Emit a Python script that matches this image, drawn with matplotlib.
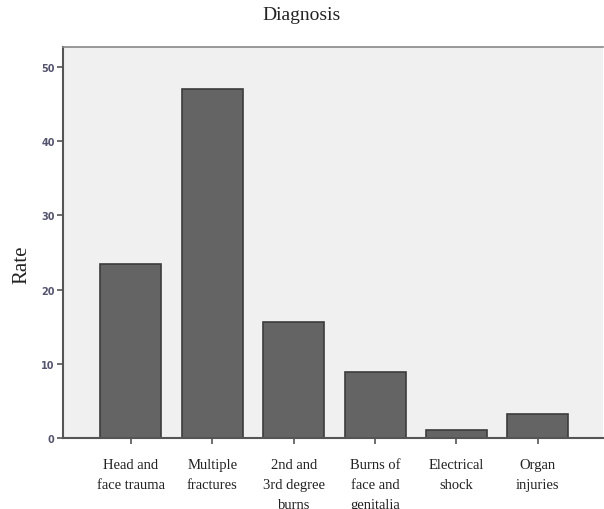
import matplotlib
matplotlib.use("Agg")
import matplotlib.pyplot as plt

categories = ["Head and\nface trauma", "Multiple\nfractures", "2nd and\n3rd degree\nburns",
              "Burns of\nface and\ngenitalia", "Electrical\nshock", "Organ\ninjuries"]
rates = [23.5, 47.1, 15.6, 8.9, 1.1, 3.3]
yticks = [0, 10, 20, 30, 40, 50]

fig = plt.figure(figsize=(6.04, 5.10), dpi=100)
ax = fig.add_axes([0.1043, 0.139, 0.894, 0.767])
ax.set_facecolor("#f0f0f0")

x = range(len(categories))
ax.bar(x, rates, width=0.75, color="#646464", edgecolor="#3c3c3c", linewidth=1.2, zorder=2)

ax.set_xlim(-0.835, 5.8)
ax.set_ylim(0, 52.7)
ax.set_yticks(yticks)
ax.set_xticks(list(x))
ax.set_xticklabels(categories, family="Liberation Serif", fontsize=10.5, color="#222222",
                   va="top", linespacing=1.7)
ax.tick_params(axis="y", labelsize=7, labelcolor="#555570", color="#555555", length=4, width=1.2, pad=2)
ax.tick_params(axis="x", color="#555555", length=4, width=1.2, pad=10)
for lab in ax.get_yticklabels():
    lab.set_fontweight("bold")

for s in ["left", "bottom"]:
    ax.spines[s].set_color("#555555")
    ax.spines[s].set_linewidth(1.5)
ax.spines["top"].set_color("#888888")
ax.spines["top"].set_linewidth(1.2)
ax.spines["right"].set_visible(False)

fig.text(22 / 604, 1 - 265 / 510, "Rate", family="Liberation Serif", fontsize=15, rotation=90,
         ha="center", va="center", color="#222222")
fig.text(0.5, 1 - 16 / 510, "Diagnosis", family="Liberation Serif", fontsize=14, ha="center",
         va="center", color="#222222")

fig.savefig("out.png", dpi=100)
